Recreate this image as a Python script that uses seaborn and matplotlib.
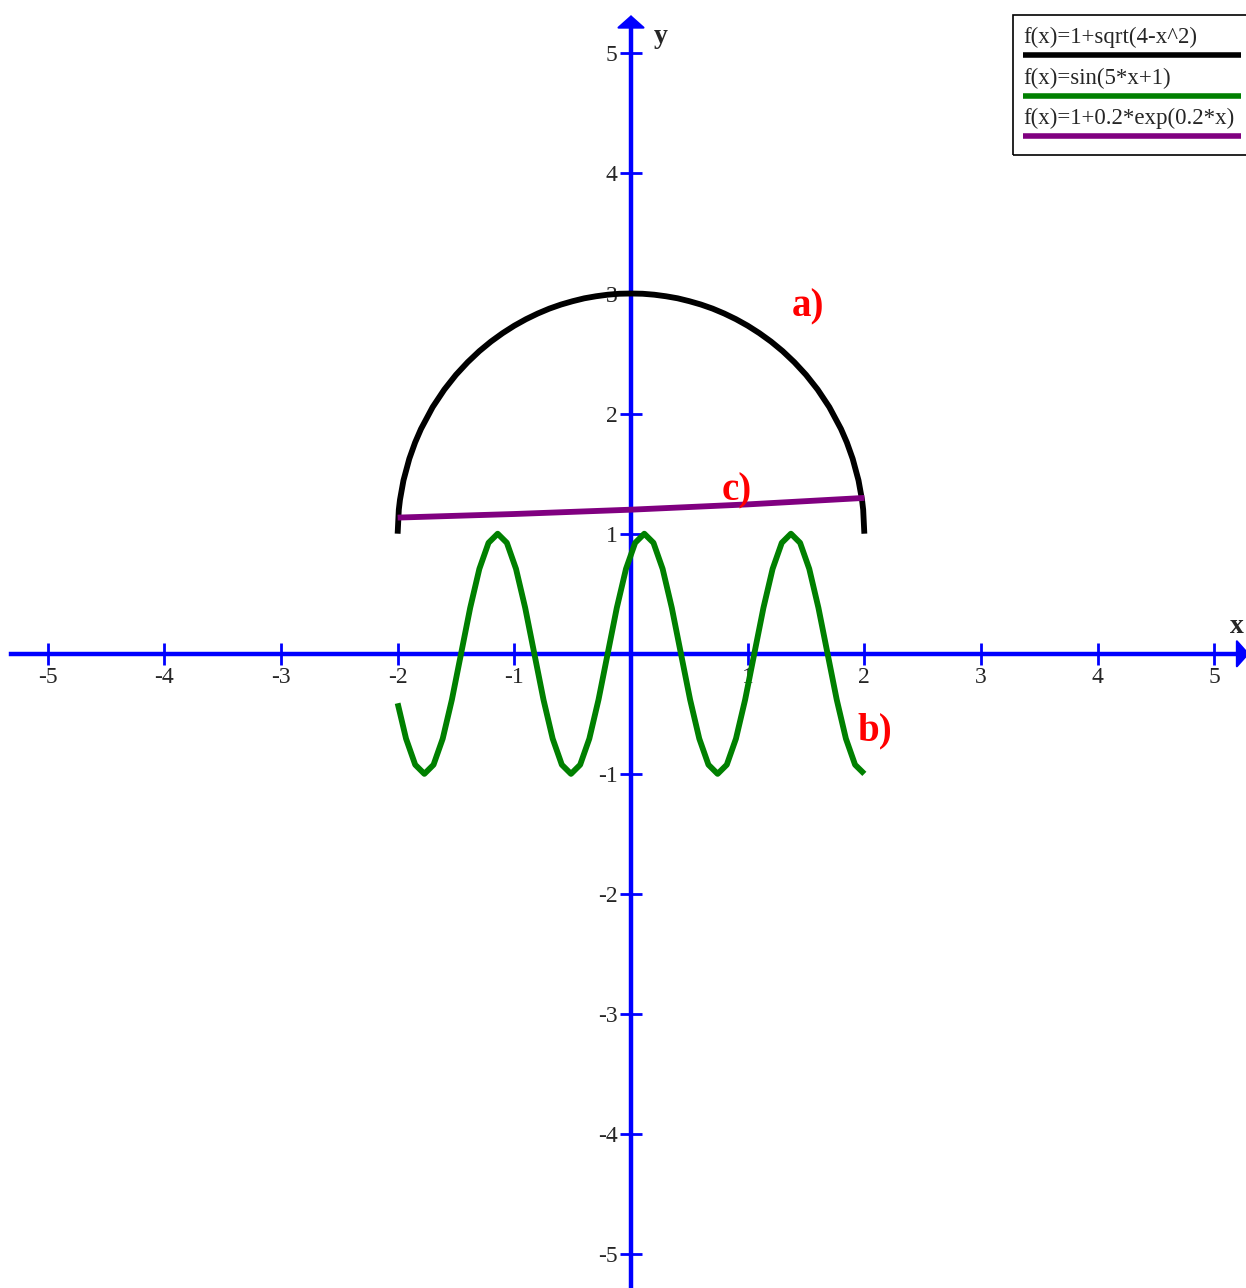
import matplotlib
matplotlib.use("Agg")
import matplotlib.pyplot as plt
import seaborn as sns
from matplotlib.patches import Rectangle
from matplotlib.lines import Line2D

# a) upper half circle
x_a = [-2.0, -1.99, -1.98, -1.95, -1.9, -1.85, -1.8, -1.7, -1.6, -1.5, -1.4, -1.3,
       -1.2, -1.1, -1.0, -0.9, -0.8, -0.7, -0.6, -0.5, -0.4, -0.3, -0.2, -0.1, 0.0,
       0.1, 0.2, 0.3, 0.4, 0.5, 0.6, 0.7, 0.8, 0.9, 1.0, 1.1, 1.2, 1.3, 1.4, 1.5,
       1.6, 1.7, 1.8, 1.85, 1.9, 1.95, 1.98, 1.99, 2.0]
y_a = [1.0, 1.2, 1.282, 1.444, 1.624, 1.76, 1.872, 2.054, 2.2, 2.323, 2.428, 2.52,
       2.6, 2.67, 2.732, 2.786, 2.833, 2.874, 2.908, 2.936, 2.96, 2.977, 2.99, 2.998, 3.0,
       2.998, 2.99, 2.977, 2.96, 2.936, 2.908, 2.874, 2.833, 2.786, 2.732, 2.67, 2.6, 2.52,
       2.428, 2.323, 2.2, 2.054, 1.872, 1.76, 1.624, 1.444, 1.282, 1.2, 1.0]

# b) sine wave
x_b = [-2.0, -1.9279, -1.8493, -1.7708, -1.6923, -1.6137, -1.5352, -1.4566, -1.3781,
       -1.2996, -1.2210, -1.1425, -1.0639, -0.9854, -0.9069, -0.8283, -0.7498, -0.6712,
       -0.5927, -0.5142, -0.4356, -0.3571, -0.2785, -0.2, -0.1215, -0.0429, 0.0356,
       0.1142, 0.1927, 0.2712, 0.3498, 0.4283, 0.5069, 0.5854, 0.6639, 0.7425, 0.8210,
       0.8996, 0.9781, 1.0566, 1.1352, 1.2137, 1.2923, 1.3708, 1.4493, 1.5279, 1.6064,
       1.6850, 1.7635, 1.8420, 1.9206, 2.0]
y_b = [-0.412, -0.707, -0.924, -1.0, -0.924, -0.707, -0.383, 0.0, 0.383, 0.707, 0.924,
       1.0, 0.924, 0.707, 0.383, 0.0, -0.383, -0.707, -0.924, -1.0, -0.924, -0.707,
       -0.383, 0.0, 0.383, 0.707, 0.924, 1.0, 0.924, 0.707, 0.383, 0.0, -0.383, -0.707,
       -0.924, -1.0, -0.924, -0.707, -0.383, 0.0, 0.383, 0.707, 0.924, 1.0, 0.924, 0.707,
       0.383, 0.0, -0.383, -0.707, -0.924, -1.0]

# c) almost flat exp line
x_c = [-2.0, -1.0, 0.0, 1.0, 2.0]
y_c = [1.134, 1.164, 1.2, 1.244, 1.298]

ticks = [-5, -4, -3, -2, -1, 1, 2, 3, 4, 5]
tick_labels = ["-5", "-4", "-3", "-2", "-1", "1", "2", "3", "4", "5"]
legend_labels = ["f(x)=1+sqrt(4-x^2)", "f(x)=sin(5*x+1)", "f(x)=1+0.2*exp(0.2*x)"]
curve_names = ["a)", "b)", "c)"]
colors = ["black", "green", "purple"]

sns.set_style("ticks")
plt.rcParams["font.family"] = ["Liberation Serif", "DejaVu Serif"]
plt.rcParams["axes.unicode_minus"] = False

fig = plt.figure(figsize=(12.46, 12.88), dpi=100)
ax = fig.add_axes([0, 0, 1, 1])
ax.set_xlim(-5.408, 5.271)
ax.set_ylim(-5.281, 5.444)

for xs, ys, c in zip([x_a, x_b, x_c], [y_a, y_b, y_c], colors):
    sns.lineplot(x=xs, y=ys, color=c, lw=4.2, sort=False, estimator=None, ax=ax,
                 zorder=3, solid_capstyle="butt")

# axes through the origin
ax.spines["top"].set_visible(False)
ax.spines["right"].set_visible(False)
ax.spines["left"].set_position(("data", 0))
ax.spines["bottom"].set_position(("data", 0))
ax.spines["bottom"].set_bounds(-5.31, 5.2)
ax.spines["left"].set_bounds(-5.3, 5.25)
for s in ["left", "bottom"]:
    ax.spines[s].set_color("blue")
    ax.spines[s].set_linewidth(3.2)

ax.set_xticks(ticks)
ax.set_xticklabels(tick_labels)
ax.set_yticks(ticks)
ax.set_yticklabels(tick_labels)
ax.tick_params(direction="inout", length=16.5, width=2, color="blue",
               labelsize=17, pad=1.5, bottom=True, left=True)

arrow = dict(arrowstyle="-|>,head_length=0.4,head_width=0.45", color="blue", lw=1.5,
             mutation_scale=20, shrinkA=0, shrinkB=0)
ax.annotate("", xy=(5.30, 0), xytext=(5.1, 0), arrowprops=arrow, annotation_clip=False)
ax.annotate("", xy=(0, 5.318), xytext=(0, 5.1), arrowprops=arrow, annotation_clip=False)

ax.text(5.19, 0.23, "x", fontsize=20, fontweight="bold", ha="center", va="center")
ax.text(0.257, 5.14, "y", fontsize=20, fontweight="bold", ha="center", va="center")

# curve tags
tag_pos = [(1.517, 2.888), (2.09, -0.64), (0.909, 1.354)]
for name, (tx, ty) in zip(curve_names, tag_pos):
    ax.text(tx, ty, name, color="red", fontsize=28, fontweight="bold",
            ha="center", va="center", zorder=4)

# legend box (text above its colour bar)
fig.patches.append(Rectangle((0.813, 0.880), 0.19, 0.108, transform=fig.transFigure,
                             fill=False, edgecolor="black", lw=1.2))
text_y = [0.9665, 0.9345, 0.9034]
bar_y = [0.9573, 0.9255, 0.8944]
for lab, c, ty, by in zip(legend_labels, colors, text_y, bar_y):
    fig.text(0.821, ty, lab, fontsize=16.5, ha="left", va="baseline")
    fig.add_artist(Line2D([0.821, 0.996], [by, by], color=c, lw=4,
                          solid_capstyle="butt", transform=fig.transFigure))

fig.savefig("out.png", dpi=100)
